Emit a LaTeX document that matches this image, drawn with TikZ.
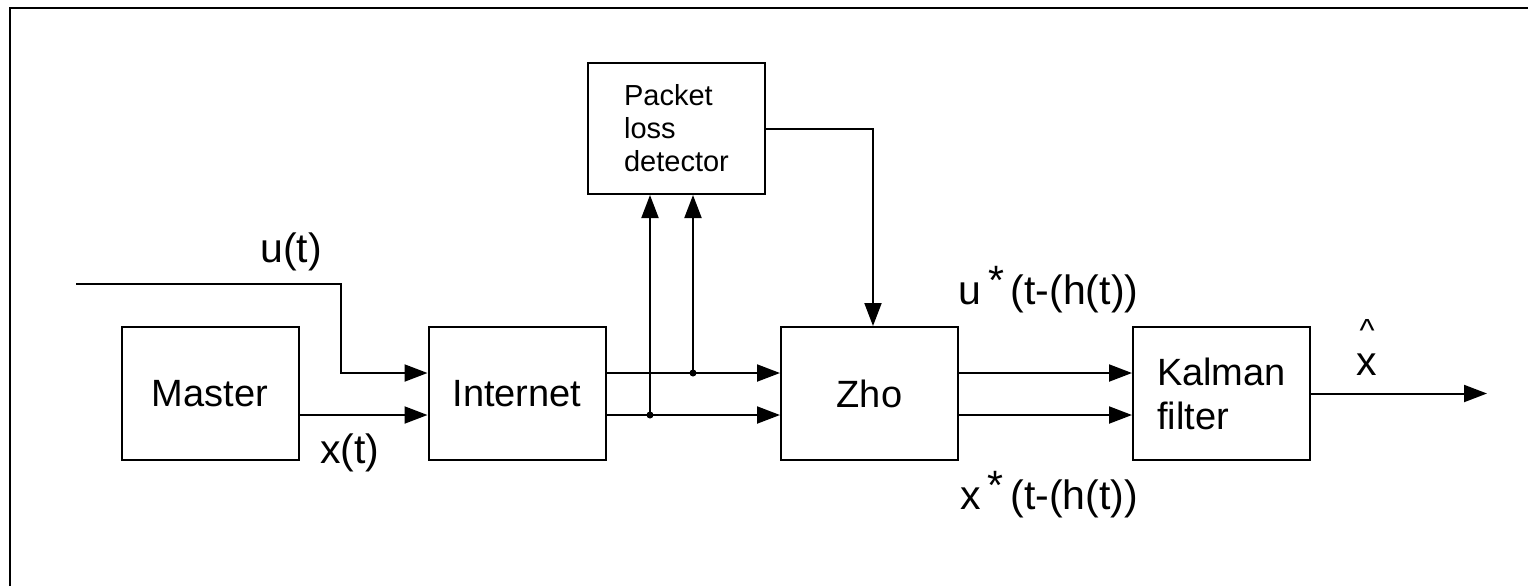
\documentclass[tikz,border=0pt]{standalone}
\usepackage{fontspec}
\setmainfont{Liberation Sans}
\usetikzlibrary{arrows.meta}
\begin{document}
\begin{tikzpicture}[x=0.5pt,y=-0.5pt,
 box/.style={draw,line width=1pt,minimum width=88.5pt,minimum height=66.5pt,inner sep=0pt,font=\fontsize{19}{22}\selectfont},
 lbl/.style={font=\fontsize{20.5}{24}\selectfont,inner sep=0pt},
 wire/.style={line width=1pt},
 arr/.style={wire,-{Triangle[length=11.5pt,width=8.5pt]}},
 jdot/.style={circle,fill,inner sep=0pt,minimum size=3.5pt}]
\useasboundingbox (0,0) rectangle (1528,586);
\draw[line width=1.2pt] (10,586) -- (10,8) -- (1528,8);
% blocks
\node[box] (master) at (210,393.5) {Master};
\node[box] (inet) at (517,393.5) {Internet};
\node[box] (zho) at (869.5,393.5) {Zho};
\node[box,align=left] (kal) at (1221.5,393.5) {Kalman\\filter};
\node[box,align=left,minimum height=65.5pt,font=\fontsize{14.5}{16.5}\selectfont] (pld) at (676.5,128.5) {Packet\\loss\\detector};
% helper coordinates
\coordinate (uin) at (76,284);
\coordinate (inU) at ([yshift=10.25pt]inet.west);
\coordinate (inX) at ([yshift=-10.75pt]inet.west);
\coordinate (jU) at (693,373);
\coordinate (jX) at (650,415);
\coordinate (zt) at ([xshift=1.75pt]zho.north);
\coordinate (out) at (1487,393.5);
% connectors
\draw[arr] (uin) -| ([xshift=-43.5pt]inU) -- (inU);
\draw[arr] (master.east |- inX) -- (inX);
\draw[arr] (inet.east |- inU) -- (zho.west |- inU);
\draw[arr] (inet.east |- inX) -- (zho.west |- inX);
\draw[arr] (jU) -- (jU |- pld.south);
\draw[arr] (jX) -- (jX |- pld.south);
\node[jdot] (dU) at (jU) {};
\node[jdot] (dX) at (jX) {};
\draw[arr] (pld.east |- 0,129) -| (zt);
\draw[arr] (zho.east |- inU) -- (kal.west |- inU);
\draw[arr] (zho.east |- inX) -- (kal.west |- inX);
\draw[arr] (kal.east) -- (out);
% labels
\node[lbl,anchor=base] (ul) at (291,262) {u(t)};
\node[lbl,anchor=base] (xl) at (350,463) {x(t)};
\node[lbl,anchor=base west] (usl) at (958,304) {u\,\raisebox{5pt}{*}\,(t-(h(t))};
\node[lbl,anchor=base west] (xsl) at (960,509) {x\,\raisebox{5pt}{*}\,(t-(h(t))};
\node[lbl,anchor=base] (xh) at (1367,375) {\shortstack{{\fontsize{16}{16}\selectfont\textasciicircum}\\[3pt]x}};
\end{tikzpicture}
\end{document}
